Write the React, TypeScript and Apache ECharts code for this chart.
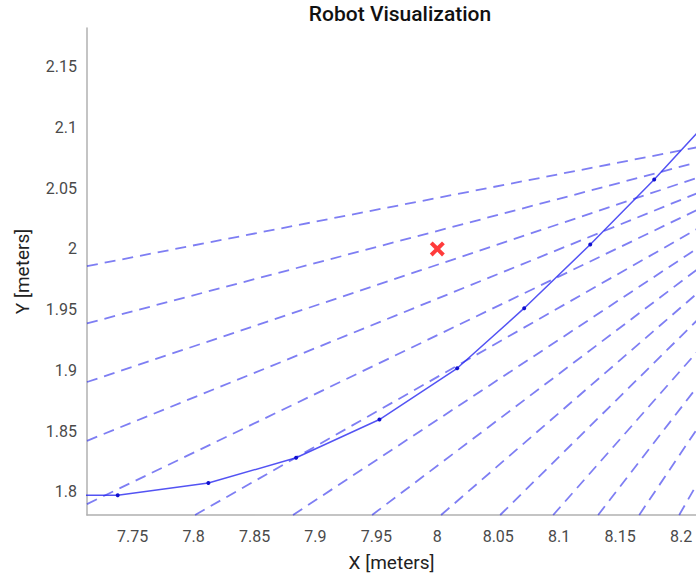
import React, { useEffect, useRef } from "react";
import * as echarts from "echarts";

const xTicks = [7.75, 7.8, 7.85, 7.9, 7.95, 8, 8.05, 8.1, 8.15, 8.2];
const yTicks = [1.8, 1.85, 1.9, 1.95, 2, 2.05, 2.1, 2.15];

const xRange = [7.7125, 8.2123];
const yRange = [1.7809, 2.1819];

// robot trajectory
const pathX = [7.674, 7.7377, 7.8121, 7.8841, 7.9525, 8.0163, 8.0713, 8.1255, 8.178, 8.2306];
const pathY = [1.7975, 1.7971, 1.8072, 1.828, 1.8595, 1.9017, 1.9512, 2.0036, 2.0572, 2.1145];

// sensor rays: common origin and the far points where each ray enters the view
const rayOrigin = [8.392, 2.1186];
const rayEndX = [7.7125, 7.7125, 7.7125, 7.7125, 7.7125, 7.8012, 7.8816, 7.9465, 8.0031, 8.0516, 8.0951, 8.132, 8.1657, 8.1985];
const rayEndY = [1.9858, 1.9387, 1.8904, 1.842, 1.7899, 1.7809, 1.7809, 1.7809, 1.7809, 1.7809, 1.7809, 1.7809, 1.7809, 1.7809];

// goal
const goal = [8.0, 2.0];

const FONT = "Roboto, 'Noto Sans', sans-serif";

export default function App() {
  const ref = useRef<HTMLDivElement>(null);
  useEffect(() => {
    if (!ref.current) return;
    const chart = echarts.init(ref.current, null, { renderer: "svg" });
    const raySeries = rayEndX.map((x, i) => ({
      type: "line",
      data: [[x, rayEndY[i]], rayOrigin],
      showSymbol: false,
      symbol: "none",
      clip: true,
      silent: true,
      lineStyle: { color: "rgba(40,40,235,0.6)", width: 1.8, type: [11, 7] },
      z: 2,
    }));
    chart.setOption({
      animation: false,
      backgroundColor: "#ffffff",
      title: {
        text: "Robot Visualization",
        left: 395,
        textAlign: "center",
        top: -2,
        textStyle: { fontFamily: FONT, fontSize: 21, fontWeight: 500, color: "#111" },
      },
      grid: { left: 87, top: 28, right: 0, bottom: 61, containLabel: false },
      xAxis: {
        type: "value",
        min: xRange[0],
        max: xRange[1],
        name: "X [meters]",
        nameLocation: "middle",
        nameGap: 38,
        nameTextStyle: { fontFamily: FONT, fontSize: 19, color: "#222" },
        axisLine: { show: true, onZero: false, lineStyle: { color: "#b0b0b0", width: 1.5 } },
        axisTick: { show: false },
        splitLine: { show: false },
        axisLabel: {
          customValues: xTicks,
          margin: 13,
          fontFamily: FONT,
          fontSize: 16,
          color: "#4a4a4a",
        },
      },
      yAxis: {
        type: "value",
        min: yRange[0],
        max: yRange[1],
        name: "Y [meters]",
        nameLocation: "middle",
        nameGap: 55,
        nameTextStyle: { fontFamily: FONT, fontSize: 19, color: "#222" },
        axisLine: { show: true, onZero: false, lineStyle: { color: "#b0b0b0", width: 1.5 } },
        axisTick: { show: false },
        splitLine: { show: false },
        axisLabel: {
          customValues: yTicks,
          margin: 10,
          fontFamily: FONT,
          fontSize: 16,
          color: "#4a4a4a",
        },
      },
      series: [
        ...raySeries,
        {
          type: "line",
          data: pathX.map((x, i) => [x, pathY[i]]),
          symbol: "circle",
          symbolSize: 4,
          showAllSymbol: true,
          clip: true,
          itemStyle: { color: "#1010d0" },
          lineStyle: { color: "rgba(40,40,240,0.8)", width: 1.5 },
          z: 3,
        },
        {
          type: "scatter",
          data: [goal],
          symbol: "path://M3,0 L8,5 L13,0 L16,3 L11,8 L16,13 L13,16 L8,11 L3,16 L0,13 L5,8 L0,3 Z",
          symbolSize: 15,
          itemStyle: { color: "#ff0a0a" },
          z: 4,
        },
      ],
    });
    return () => chart.dispose();
  }, []);
  return <div ref={ref} style={{ width: 696, height: 577, position: "absolute", left: 0, top: 0 }} />;
}
